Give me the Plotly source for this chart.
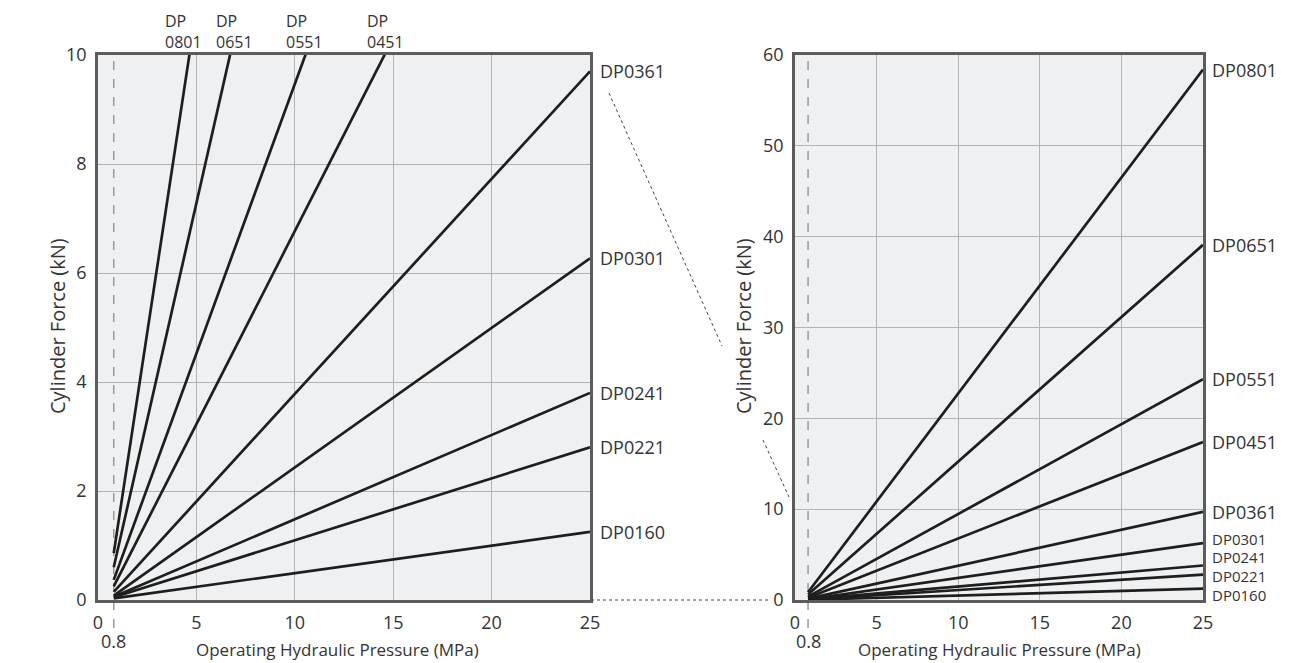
import plotly.graph_objects as go

# ---------------- data ----------------
models = ["DP0160", "DP0221", "DP0241", "DP0301", "DP0361",
          "DP0451", "DP0551", "DP0651", "DP0801"]
pressure_start = 0.8     # MPa
pressure_end = 25.0      # MPa
force_start = [0.03, 0.05, 0.06, 0.08, 0.15, 0.25, 0.37, 0.60, 0.86]   # kN
force_end = [1.25, 2.80, 3.80, 6.27, 9.70, 17.40, 24.30, 39.10, 58.40]  # kN

x_ticks = [0, 5, 10, 15, 20, 25]
left_y_ticks = [0, 2, 4, 6, 8, 10]
right_y_ticks = [0, 10, 20, 30, 40, 50, 60]

# models labelled on top of the left chart (lines leaving through the top)
top_label_models = ["DP0801", "DP0651", "DP0551", "DP0451"]
# models labelled at right of the left chart
left_side_models = ["DP0361", "DP0301", "DP0241", "DP0221", "DP0160"]

# ---------------- layout helpers ----------------
W, H = 1303, 663
OFF = 8                      # page body margin
FW, FH = W - OFF, H - OFF    # figure size
def px(x):
    return (x - OFF) / FW
def py(y):
    return 1 - (y - OFF) / FH

FONT = "Open Sans"
FS = 18
TXT = "#333333"
LINE = "#1e1e1e"
BORDER = "#5c5c5c"
GRID = "#b4b4b4"
BG = "#eff0f2"

fig = go.Figure()

for m, f0, f1 in zip(models, force_start, force_end):
    for xa, ya in (("x", "y"), ("x2", "y2")):
        fig.add_trace(go.Scatter(
            x=[pressure_start, pressure_end], y=[f0, f1],
            mode="lines", line=dict(color=LINE, width=2.7),
            xaxis=xa, yaxis=ya, showlegend=False, hoverinfo="skip"))

ax_common = dict(
    showline=True, mirror=True, linecolor=BORDER, linewidth=2.5,
    showgrid=True, gridcolor=GRID, gridwidth=1, zeroline=False,
    ticks="outside", ticklen=5, tickcolor="rgba(0,0,0,0)",
    tickfont=dict(family=FONT, size=FS, color=TXT), automargin=False,
)

fig.update_layout(
    width=FW, height=FH,
    margin=dict(l=0, r=0, t=0, b=0, autoexpand=False),
    paper_bgcolor="white", plot_bgcolor=BG,
    font=dict(family=FONT, size=FS, color=TXT),
    xaxis=dict(domain=[px(98), px(590)], range=[0, 25], tickvals=x_ticks,
               anchor="y", **ax_common),
    yaxis=dict(domain=[py(600), py(55)], range=[0, 10], tickvals=left_y_ticks,
               anchor="x", **ax_common),
    xaxis2=dict(domain=[px(795), px(1203)], range=[0, 25], tickvals=x_ticks,
                anchor="y2", **ax_common),
    yaxis2=dict(domain=[py(600), py(55)], range=[0, 60], tickvals=right_y_ticks,
                anchor="x2", **ax_common),
)

ann = []
# labels at right edge of left chart
for m in left_side_models:
    i = models.index(m)
    ann.append(dict(x=pressure_end, y=force_end[i], xref="x", yref="y",
                    text=m, showarrow=False, xanchor="left", yanchor="middle",
                    xshift=8))
# labels at top of left chart
top_label_px = {"DP0801": 164, "DP0651": 215, "DP0551": 285, "DP0451": 366}
for m in top_label_models:
    ann.append(dict(x=px(top_label_px[m]), y=py(54), xref="paper", yref="paper",
                    text="DP<br>" + m[2:], showarrow=False, borderpad=0,
                    xanchor="left", yanchor="bottom", align="left",
                    font=dict(size=16)))
# labels at right edge of right chart
label_shift = {"DP0301": 4, "DP0241": 8, "DP0221": -1.5, "DP0160": -6}
small = {"DP0301", "DP0241", "DP0221", "DP0160"}
for m, f1 in zip(models, force_end):
    ann.append(dict(x=pressure_end, y=f1, xref="x2", yref="y2",
                    text=m, showarrow=False, xanchor="left", yanchor="middle",
                    xshift=8, yshift=label_shift.get(m, 0), borderpad=0,
                    font=dict(size=15 if m in small else FS)))
# 0.8 labels
for xr in ("x", "x2"):
    ann.append(dict(x=pressure_start, y=py(641), xref=xr, yref="paper",
                    text="0.8", showarrow=False, xanchor="center",
                    yanchor="middle"))
# axis titles
for cx in (337, 999):
    ann.append(dict(x=px(cx), y=py(649), xref="paper", yref="paper",
                    text="Operating Hydraulic Pressure (MPa)", showarrow=False,
                    xanchor="center", yanchor="middle", font=dict(size=17)))
for cx in (57, 743):
    ann.append(dict(x=px(cx), y=py(326), xref="paper", yref="paper",
                    text="Cylinder Force (kN)", showarrow=False, textangle=-90,
                    xanchor="center", yanchor="middle", font=dict(size=20)))
fig.update_layout(annotations=ann)

shapes = []
# vertical dashed lines at 0.8 MPa
for xr in ("x", "x2"):
    shapes.append(dict(type="line", xref=xr, yref="paper",
                       x0=pressure_start, x1=pressure_start,
                       y0=py(628), y1=py(58),
                       line=dict(color="#9a9a9a", width=1.5, dash="dash"),
                       layer="between"))
# connector lines between charts
shapes.append(dict(type="line", xref="paper", yref="paper",
                   x0=px(609), y0=py(93), x1=px(722), y1=py(346),
                   line=dict(color="#444", width=1, dash="dot")))
shapes.append(dict(type="line", xref="paper", yref="paper",
                   x0=px(763), y0=py(440), x1=px(789), y1=py(497),
                   line=dict(color="#444", width=1, dash="dot")))
shapes.append(dict(type="line", xref="paper", yref="paper",
                   x0=px(591), y0=py(600), x1=px(770), y1=py(600),
                   line=dict(color="#444", width=1, dash="dot")))
fig.update_layout(shapes=shapes)

fig.write_html("out.html")
